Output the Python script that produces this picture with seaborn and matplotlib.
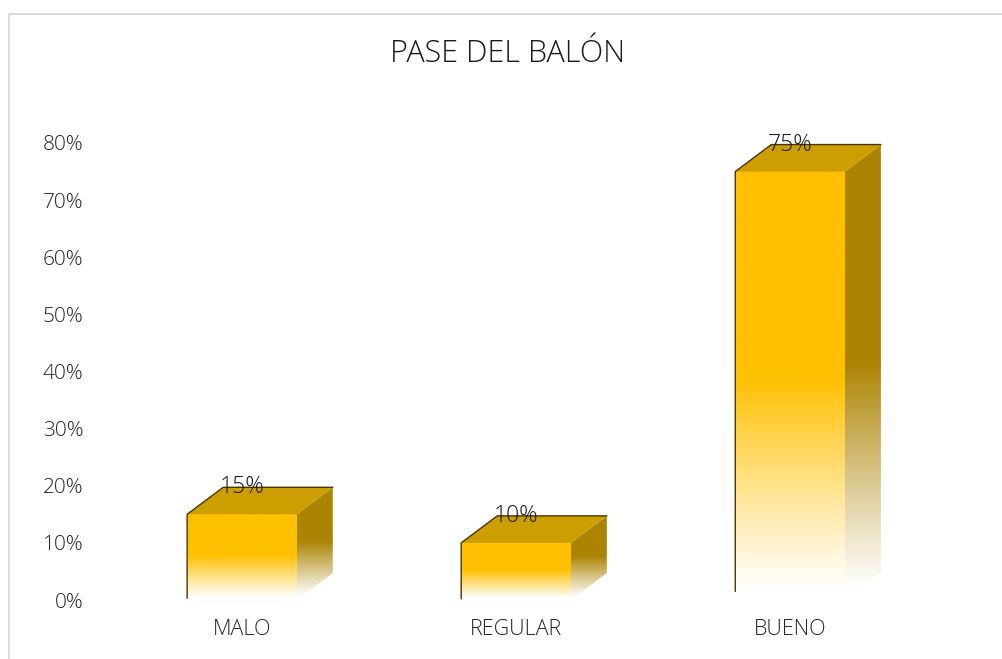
import numpy as np
import pandas as pd
import seaborn as sns
import matplotlib
matplotlib.use("Agg")
import matplotlib.pyplot as plt
from matplotlib.patches import Polygon, Rectangle
from matplotlib.lines import Line2D

# ---- data ----
categories = ["MALO", "REGULAR", "BUENO"]
values = [0.15, 0.10, 0.75]
value_labels = ["15%", "10%", "75%"]
title = "PASE DEL BALÓN"
yticks = [0.0, 0.1, 0.2, 0.3, 0.4, 0.5, 0.6, 0.7, 0.8]

sns.set_theme(style="white")
plt.rcParams['font.family'] = ['Open Sans', 'DejaVu Sans']

W, H = 1002, 659
fig = plt.figure(figsize=(W / 100, H / 100), dpi=100)
ax = fig.add_axes([100 / W, 59 / H, 860 / W, 457 / H])

df = pd.DataFrame({"cat": categories, "val": values})
sns.barplot(data=df, x="cat", y="val", width=0.4, color="#FFC000", ax=ax,
            saturation=1, zorder=2)

ax.set_xlim(-0.518, 2.620)
ax.set_ylim(0, 0.8)

gold = np.array([255, 192, 0]) / 255
side_c = np.array([172, 132, 4]) / 255
top_c = np.array([204, 158, 0]) / 255
edge_c = "#4a3500"
white = np.array([1.0, 1.0, 1.0])

dx = 36 / 274.0
dy = 0.8 / 457 * 27


def grad(col, n=256):
    t = np.linspace(0, 1, n)
    f = np.clip((t - 0.02) / 0.5, 0, 1) ** 1.1
    rgb = white[None, :] + (col[None, :] - white[None, :]) * f[:, None]
    return rgb[:, None, :]


bars = list(ax.patches)
for p, lab in zip(bars, value_labels):
    x0, w, h = p.get_x(), p.get_width(), p.get_height()
    p.set_facecolor("none")
    p.set_edgecolor("none")
    # front face gradient
    ax.imshow(grad(gold), extent=[x0, x0 + w, 0, h], origin="lower",
              aspect="auto", zorder=2, interpolation="bilinear")
    # side face
    side = Polygon([(x0 + w, 0), (x0 + w + dx, dy), (x0 + w + dx, h + dy), (x0 + w, h)],
                   closed=True, facecolor="none", edgecolor="none", zorder=2)
    ax.add_patch(side)
    im = ax.imshow(grad(side_c), extent=[x0 + w, x0 + w + dx, 0, h + dy], origin="lower",
                   aspect="auto", zorder=2, interpolation="bilinear")
    im.set_clip_path(side)
    # top face
    top = Polygon([(x0, h), (x0 + w, h), (x0 + w + dx, h + dy), (x0 + dx, h + dy)],
                  closed=True, facecolor=top_c, edgecolor="none", zorder=3, clip_on=False)
    ax.add_patch(top)
    # outlines
    ax.add_line(Line2D([x0, x0, x0 + dx, x0 + w + dx], [h * 0.02, h, h + dy, h + dy],
                       color=edge_c, lw=1.0, zorder=4, clip_on=False))
    # value label
    ax.text(x0 + w / 2, h + dy, lab, ha="center", va="center", fontsize=16.5,
            fontweight="light", color="#1a1a1a", zorder=10)

ax.set_xlim(-0.518, 2.620)
ax.set_ylim(0, 0.8)
ax.set_yticks(yticks)
ax.set_yticklabels([f"{v:.0%}" for v in yticks])
ax.set_xlabel("")
ax.set_ylabel("")
for s in ax.spines.values():
    s.set_visible(False)
ax.grid(False)
ax.tick_params(axis="y", length=0, pad=12, labelsize=15, labelcolor="#262626")
ax.tick_params(axis="x", length=0, pad=14, labelsize=15.5, labelcolor="#262626")
for t in ax.get_xticklabels() + ax.get_yticklabels():
    t.set_fontweight("light")

fig.text(508 / W, 1 - 54 / H, title, ha="center", va="center", fontsize=22,
         fontweight="light", color="#1a1a1a")

fig.patches.append(Rectangle((8.5 / W, -0.05), 1.0, 1 - 13.5 / H + 0.05,
                             transform=fig.transFigure, facecolor="none",
                             edgecolor="#D9D9D9", lw=1.3, zorder=-1))

fig.savefig("out.png", dpi=100)
